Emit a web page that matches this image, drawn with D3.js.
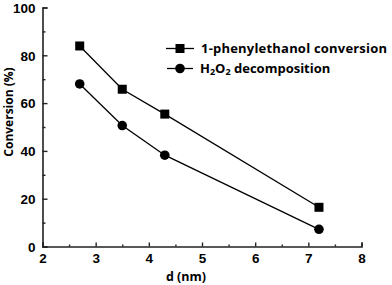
<!DOCTYPE html>
<html>
<head>
<meta charset="utf-8">
<script src="https://cdn.jsdelivr.net/npm/d3@7"></script>
<style>
  body { margin: 0; background: #fff; }
  text { fill: #000; }
</style>
</head>
<body>
<div class="chart"></div>
<script>
// values
const sizes = [2.7, 3.5, 4.3, 7.2];
const phenylethanol = [83.9, 65.8, 55.4, 16.4];
const h2o2 = [68.0, 50.6, 38.2, 7.2];
const xTicks = [2, 3, 4, 5, 6, 7, 8];
const yTicks = [0, 20, 40, 60, 80, 100];

const width = 392, height = 285;
const x = d3.scaleLinear().domain([2, 8]).range([42.5, 361.5]);
const y = d3.scaleLinear().domain([0, 100]).range([246.5, 7.5]);

const svg = d3.select(".chart").append("svg")
  .attr("width", width)
  .attr("height", height);

const tickFont = "'Liberation Sans', Arial, sans-serif";
const labelFont = "'Open Sans', 'Noto Sans', sans-serif";

// x axis, ticks inward
svg.append("g")
  .attr("transform", `translate(0,${y(0)})`)
  .call(d3.axisBottom(x).tickValues(xTicks).tickSize(-4).tickPadding(7).tickFormat(d3.format("d")));
svg.append("g")
  .attr("transform", `translate(0,${y(0)})`)
  .call(d3.axisBottom(x).tickValues(d3.range(2.5, 8, 1)).tickSize(-2).tickFormat(""))
  .select(".domain").remove();

// y axis, ticks inward
const yAxis = svg.append("g")
  .attr("transform", `translate(${x(2)},0)`)
  .call(d3.axisLeft(y).tickValues(yTicks).tickSize(-5).tickPadding(7));
svg.append("g")
  .attr("transform", `translate(${x(2)},0)`)
  .call(d3.axisLeft(y).tickValues(d3.range(10, 100, 20)).tickSize(-3).tickFormat(""))
  .select(".domain").remove();

svg.selectAll(".domain").attr("stroke", "#222").attr("stroke-width", 1.6);
svg.selectAll(".tick line").attr("stroke", "#222").attr("stroke-width", 1.4);
svg.selectAll(".tick text")
  .style("font-family", tickFont)
  .style("font-size", "13.5px")
  .style("font-weight", "bold")
  .attr("fill", "#000");
yAxis.selectAll(".tick text").attr("dy", "0.36em");

// axis titles
svg.append("text")
  .attr("x", 186).attr("y", 281)
  .attr("text-anchor", "middle")
  .style("font-family", labelFont).style("font-weight", "bold").style("font-size", "12.5px")
  .text("d (nm)");
svg.append("text")
  .attr("transform", "translate(13,112) rotate(-90)")
  .attr("text-anchor", "middle")
  .style("font-family", labelFont).style("font-weight", "bold").style("font-size", "12px")
  .text("Conversion (%)");

const line = d3.line()
  .x((d, i) => x(sizes[i]))
  .y(d => y(d));

svg.append("path").datum(phenylethanol)
  .attr("d", line).attr("fill", "none").attr("stroke", "#000").attr("stroke-width", 1.3);
svg.append("path").datum(h2o2)
  .attr("d", line).attr("fill", "none").attr("stroke", "#000").attr("stroke-width", 1.3);

svg.selectAll(".sq").data(phenylethanol).enter().append("rect")
  .attr("class", "sq")
  .attr("x", (d, i) => x(sizes[i]) - 4.5)
  .attr("y", d => y(d) - 4.5)
  .attr("width", 9).attr("height", 9)
  .attr("fill", "#000");
svg.selectAll(".dot").data(h2o2).enter().append("circle")
  .attr("class", "dot")
  .attr("cx", (d, i) => x(sizes[i]))
  .attr("cy", d => y(d))
  .attr("r", 4.8)
  .attr("fill", "#000");

// legend
const legend = svg.append("g").style("font-family", labelFont)
  .style("font-weight", "bold").style("font-size", "13px");
legend.append("line").attr("x1", 166).attr("x2", 194).attr("y1", 48.5).attr("y2", 48.5)
  .attr("stroke", "#000").attr("stroke-width", 1.3);
legend.append("rect").attr("x", 175.5).attr("y", 44).attr("width", 9).attr("height", 9).attr("fill", "#000");
legend.append("text").attr("x", 201).attr("y", 53).attr("textLength", 186).text("1-phenylethanol conversion");

legend.append("line").attr("x1", 167).attr("x2", 193).attr("y1", 68.5).attr("y2", 68.5)
  .attr("stroke", "#000").attr("stroke-width", 1.3);
legend.append("circle").attr("cx", 180).attr("cy", 68.5).attr("r", 4.8).attr("fill", "#000");
const t2 = legend.append("text").attr("x", 200).attr("y", 73);
t2.append("tspan").text("H");
t2.append("tspan").attr("font-size", "9px").attr("dy", 2).text("2");
t2.append("tspan").attr("dy", -2).text("O");
t2.append("tspan").attr("font-size", "9px").attr("dy", 2).text("2");
t2.append("tspan").attr("dy", -2).text(" decomposition");
</script>
</body>
</html>
